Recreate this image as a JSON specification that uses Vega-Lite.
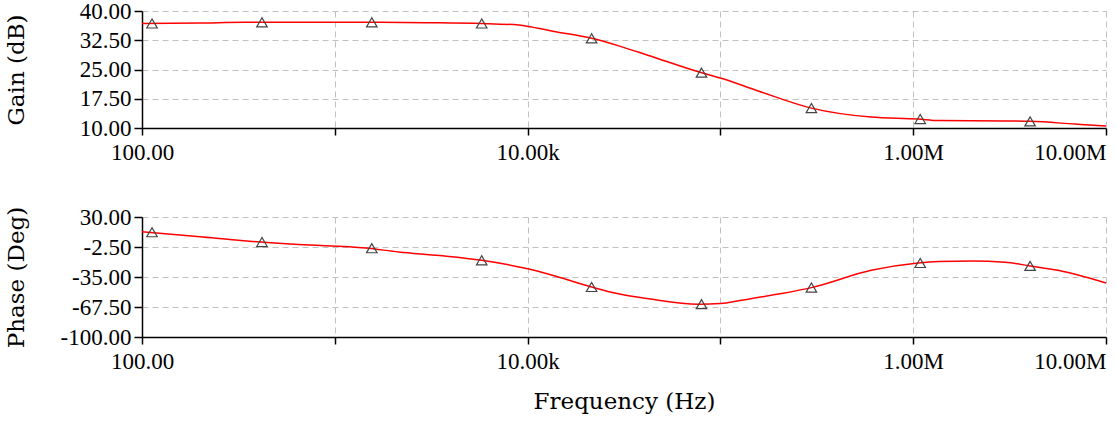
{
  "$schema": "https://vega.github.io/schema/vega-lite/v6.json",
  "background": "white",
  "padding": {"left": 5, "top": 0, "right": 5, "bottom": 5},
  "config": {
    "view": {"stroke": null},
    "concat": {"spacing": 42},
    "axis": {
      "labelFont": "Liberation Serif", "labelFontSize": 23, "labelColor": "#000000",
      "titleFont": "DejaVu Serif", "titleFontSize": 23, "titleFontWeight": "normal", "titleColor": "#000000",
      "domainColor": "#000000", "domainWidth": 1.5, "tickColor": "#000000", "tickWidth": 1.5,
      "gridColor": "#c0c0c0", "gridDash": [6, 4], "gridWidth": 1
    }
  },
  "datasets": {
    "gain": [
      {"freq": 100, "gain": 36.8}, {"freq": 200, "gain": 36.9}, {"freq": 337, "gain": 37.1},
      {"freq": 650, "gain": 37.1}, {"freq": 1449, "gain": 37.1}, {"freq": 3000, "gain": 37.0},
      {"freq": 5781, "gain": 36.8}, {"freq": 8977, "gain": 36.4}, {"freq": 9880, "gain": 36.1},
      {"freq": 14000, "gain": 34.7}, {"freq": 21480, "gain": 33.0}, {"freq": 30000, "gain": 31.0},
      {"freq": 42400, "gain": 28.6}, {"freq": 76900, "gain": 24.4}, {"freq": 100000, "gain": 22.8},
      {"freq": 157000, "gain": 19.5}, {"freq": 296500, "gain": 15.1}, {"freq": 605800, "gain": 12.8},
      {"freq": 1060000, "gain": 12.3}, {"freq": 1350000, "gain": 11.9}, {"freq": 3000000, "gain": 11.8},
      {"freq": 4040000, "gain": 11.7}, {"freq": 6900000, "gain": 11.0}, {"freq": 10000000, "gain": 10.5}
    ],
    "gainMarks": [
      {"freq": 112.7, "gain": 36.8}, {"freq": 419, "gain": 37.1}, {"freq": 1556, "gain": 37.1},
      {"freq": 5781, "gain": 36.8}, {"freq": 21480, "gain": 33.0}, {"freq": 79800, "gain": 24.2},
      {"freq": 296500, "gain": 15.1}, {"freq": 1087000, "gain": 12.3}, {"freq": 4040000, "gain": 11.7}
    ],
    "phase": [
      {"freq": 100, "phase": 14.0}, {"freq": 200, "phase": 8.5}, {"freq": 337, "phase": 4.2},
      {"freq": 650, "phase": 0.1}, {"freq": 1449, "phase": -3.6}, {"freq": 2148, "phase": -7.9},
      {"freq": 3500, "phase": -11.8}, {"freq": 5781, "phase": -16.9}, {"freq": 9880, "phase": -25.9},
      {"freq": 14000, "phase": -34.2}, {"freq": 21480, "phase": -45.8}, {"freq": 30000, "phase": -53.5},
      {"freq": 42400, "phase": -58.5}, {"freq": 76900, "phase": -64.4}, {"freq": 100000, "phase": -63.8},
      {"freq": 128500, "phase": -60.2}, {"freq": 200000, "phase": -53.5}, {"freq": 296500, "phase": -46.5},
      {"freq": 605800, "phase": -27.7}, {"freq": 1060000, "phase": -19.8}, {"freq": 1350000, "phase": -18.2},
      {"freq": 2000000, "phase": -17.6}, {"freq": 3000000, "phase": -19.0}, {"freq": 4040000, "phase": -23.0},
      {"freq": 5640000, "phase": -27.7}, {"freq": 10000000, "phase": -41.5}
    ],
    "phaseMarks": [
      {"freq": 112.7, "phase": 13.5}, {"freq": 419, "phase": 2.9}, {"freq": 1556, "phase": -3.8},
      {"freq": 5781, "phase": -16.9}, {"freq": 21480, "phase": -45.8}, {"freq": 79800, "phase": -64.4},
      {"freq": 296500, "phase": -46.5}, {"freq": 1087000, "phase": -19.8}, {"freq": 4040000, "phase": -23.0}
    ]
  },
  "vconcat": [
    {
      "width": 964,
      "height": 117,
      "encoding": {
        "x": {
          "field": "freq", "type": "quantitative",
          "scale": {"type": "log", "domain": [100, 10000000]},
          "axis": {
            "values": [100, 1000, 10000, 100000, 1000000, 10000000],
            "title": null, "tickSize": 7, "labelPadding": 6, "labelFlush": false, "labelOverlap": false, "labelBound": false,
            "labelAlign": {"condition": {"test": "datum.value > 5000000", "value": "right"}, "value": "center"},
            "labelExpr": "datum.value < 150 ? '100.00' : (datum.value > 5000 && datum.value < 20000) ? '10.00k' : (datum.value > 500000 && datum.value < 2000000) ? '1.00M' : datum.value > 5000000 ? '10.00M' : ''"
          }
        },
        "y": {
          "field": "gain", "type": "quantitative",
          "scale": {"domain": [10, 40]},
          "axis": {
            "values": [10, 17.5, 25, 32.5, 40], "title": "Gain (dB)",
            "labelExpr": "(datum.value < 0 ? '-' : '') + format(abs(datum.value), '.2f')",
            "tickSize": 8, "labelPadding": 3, "minExtent": 85, "maxExtent": 85, "titlePadding": 29
          }
        }
      },
      "layer": [
        {"data": {"name": "gain"}, "mark": {"type": "line", "color": "#ff0000", "strokeWidth": 1.5, "interpolate": "monotone"}},
        {"data": {"name": "gainMarks"}, "mark": {"type": "point", "shape": "triangle-up", "filled": false, "stroke": "#444444", "size": 110, "strokeWidth": 1.2, "opacity": 1}}
      ]
    },
    {
      "width": 964,
      "height": 120,
      "encoding": {
        "x": {
          "field": "freq", "type": "quantitative",
          "scale": {"type": "log", "domain": [100, 10000000]},
          "axis": {
            "values": [100, 1000, 10000, 100000, 1000000, 10000000],
            "title": "Frequency (Hz)", "titlePadding": 17, "tickSize": 7, "labelPadding": 6, "labelFlush": false, "labelOverlap": false, "labelBound": false,
            "labelAlign": {"condition": {"test": "datum.value > 5000000", "value": "right"}, "value": "center"},
            "labelExpr": "datum.value < 150 ? '100.00' : (datum.value > 5000 && datum.value < 20000) ? '10.00k' : (datum.value > 500000 && datum.value < 2000000) ? '1.00M' : datum.value > 5000000 ? '10.00M' : ''"
          }
        },
        "y": {
          "field": "phase", "type": "quantitative",
          "scale": {"domain": [-100, 30]},
          "axis": {
            "values": [-100, -67.5, -35, -2.5, 30], "title": "Phase (Deg)",
            "labelExpr": "(datum.value < 0 ? '-' : '') + format(abs(datum.value), '.2f')",
            "tickSize": 8, "labelPadding": 3, "minExtent": 85, "maxExtent": 85, "titlePadding": 29
          }
        }
      },
      "layer": [
        {"data": {"name": "phase"}, "mark": {"type": "line", "color": "#ff0000", "strokeWidth": 1.5, "interpolate": "monotone"}},
        {"data": {"name": "phaseMarks"}, "mark": {"type": "point", "shape": "triangle-up", "filled": false, "stroke": "#444444", "size": 110, "strokeWidth": 1.2, "opacity": 1}}
      ]
    }
  ]
}
